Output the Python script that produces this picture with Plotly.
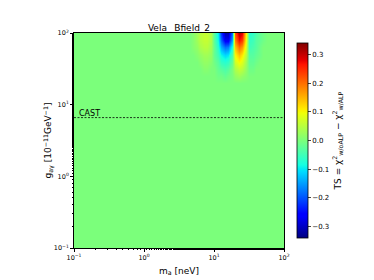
import numpy as np
import plotly.graph_objects as go

# ---- data ----
title = "Vela _Bfield_2"
log_m_full = np.round(np.arange(-1.0, 2.0001, 0.05), 3)   # mass grid (log10 neV)
log_g_full = np.round(np.arange(-1.0, 2.0001, 0.1), 3)    # coupling grid (log10 1e-11 GeV^-1)

# active region (rest of map is TS ~ 0)
active_log_m = [0.70, 0.75, 0.80, 0.85, 0.90, 0.95, 1.00, 1.05, 1.10, 1.15, 1.20,
                1.25, 1.30, 1.35, 1.40, 1.45, 1.50, 1.55, 1.60, 1.65, 1.70, 1.75]
active_log_g = [2.0, 1.9, 1.8, 1.7, 1.6, 1.5, 1.4]
active_ts = [
    [0.01, 0.03, 0.05, 0.06, 0.06, 0.04, -0.03, -0.10, -0.22, -0.31, -0.31, -0.18, 0.22, 0.31, 0.28, 0.10, -0.07, -0.06, -0.04, -0.02, -0.01, 0.0],
    [0.01, 0.03, 0.05, 0.06, 0.06, 0.04, -0.03, -0.09, -0.19, -0.27, -0.27, -0.15, 0.19, 0.27, 0.24, 0.09, -0.06, -0.05, -0.03, -0.02, -0.01, 0.0],
    [0.01, 0.02, 0.04, 0.05, 0.05, 0.03, -0.02, -0.07, -0.14, -0.18, -0.17, -0.08, 0.14, 0.20, 0.17, 0.07, -0.05, -0.04, -0.03, -0.01, 0.0, 0.0],
    [0.0, 0.01, 0.02, 0.03, 0.03, 0.02, -0.02, -0.05, -0.09, -0.11, -0.10, -0.04, 0.10, 0.14, 0.11, 0.05, -0.03, -0.03, -0.02, -0.01, 0.0, 0.0],
    [0.0, 0.0, 0.01, 0.02, 0.02, 0.01, -0.01, -0.03, -0.06, -0.07, -0.06, -0.02, 0.07, 0.10, 0.08, 0.03, -0.02, -0.02, -0.01, 0.0, 0.0, 0.0],
    [0.0, 0.0, 0.0, 0.01, 0.01, 0.0, 0.0, -0.02, -0.03, -0.04, -0.03, 0.0, 0.04, 0.06, 0.05, 0.02, -0.01, -0.01, 0.0, 0.0, 0.0, 0.0],
    [0.0, 0.0, 0.0, 0.0, 0.0, 0.0, 0.0, -0.01, -0.01, -0.02, -0.01, 0.0, 0.02, 0.03, 0.02, 0.01, 0.0, 0.0, 0.0, 0.0, 0.0, 0.0],
]
cast_g = 6.6
ts_min, ts_max = -0.34, 0.34
x_tickvals = [0.1, 1, 10, 100]
x_ticktext = ["10<sup>−1</sup>", "10<sup>0</sup>", "10<sup>1</sup>", "10<sup>2</sup>"]
cb_ticks = [-0.3, -0.2, -0.1, 0.0, 0.1, 0.2, 0.3]

# ---- build grid ----
z = np.zeros((len(log_g_full), len(log_m_full)))
for i, lg in enumerate(active_log_g):
    gi = int(np.argmin(np.abs(log_g_full - lg)))
    for j, lm in enumerate(active_log_m):
        mj = int(np.argmin(np.abs(log_m_full - lm)))
        z[gi, mj] = active_ts[i][j]

m_vals = 10 ** log_m_full
g_vals = 10 ** log_g_full

# matplotlib jet colorscale
def jet(t):
    def seg(pts):
        xs = [p[0] for p in pts]; ys = [p[1] for p in pts]
        return np.interp(t, xs, ys)
    r = seg([(0, 0), (0.35, 0), (0.66, 1), (0.89, 1), (1, 0.5)])
    g = seg([(0, 0), (0.125, 0), (0.375, 1), (0.64, 1), (0.91, 0), (1, 0)])
    b = seg([(0, 0.5), (0.11, 1), (0.34, 1), (0.65, 0), (1, 0)])
    return f"rgb({int(round(r*255))},{int(round(g*255))},{int(round(b*255))})"

stops = sorted(set([0, 0.11, 0.125, 0.34, 0.35, 0.375, 0.5, 0.64, 0.65, 0.66, 0.89, 0.91, 1]))
jet_scale = [[s, jet(s)] for s in stops]

font = "DejaVu Sans"
fig = go.Figure()
fig.add_trace(go.Heatmap(
    x=m_vals, y=g_vals, z=z, zmin=ts_min, zmax=ts_max, colorscale=jet_scale,
    zsmooth="best",
    colorbar=dict(
        thickness=11, len=1.0, lenmode="fraction", y=0.5, yanchor="middle",
        x=1.0, xanchor="left", xpad=13, outlinewidth=0.8, outlinecolor="black",
        tickvals=cb_ticks, ticktext=["−0.3", "−0.2", "−0.1", "0.0", "0.1", "0.2", "0.3"],
        ticks="outside", ticklen=3, tickfont=dict(size=7, family=font, color="black"),
        title=dict(text="TS = χ<sup>2</sup><sub>w/oALP</sub> − χ<sup>2</sup><sub>w/ALP</sub>",
                   side="right", font=dict(size=9, family=font, color="black")),
    ),
))
fig.add_trace(go.Scatter(x=[0.1, 100], y=[cast_g, cast_g], mode="lines",
                         line=dict(color="black", width=0.8, dash="2px,1.5px"),
                         showlegend=False, hoverinfo="skip"))
fig.add_annotation(x=np.log10(0.11), y=np.log10(cast_g), xref="x", yref="y",
                   text="CAST", showarrow=False, xanchor="left", yanchor="bottom",
                   font=dict(size=8, family=font, color="black"), yshift=-2)
# y-axis title placed as annotation for exact position
fig.add_annotation(x=0, y=0.5, xref="paper", yref="paper", xshift=-26,
                   text="g<sub>aγ</sub> [10<sup>−11</sup>GeV<sup>−1</sup>]", textangle=-90,
                   showarrow=False, xanchor="center", yanchor="middle",
                   font=dict(size=9, family=font, color="black"))

axis_common = dict(type="log", showgrid=False, zeroline=False, showline=True,
                   linecolor="black", linewidth=0.8, mirror=True, ticks="outside",
                   ticklen=3, tickcolor="black", automargin=False,
                   tickfont=dict(size=6.5, family=font, color="black"),
                   minor=dict(ticks="outside", ticklen=1.5, tickcolor="black", showgrid=False))
fig.update_xaxes(**axis_common, range=[-1, 2], tickvals=x_tickvals, ticktext=x_ticktext,
                 title=dict(text="m<sub>a</sub> [neV]", font=dict(size=9, family=font, color="black"),
                            standoff=6))
fig.update_yaxes(**axis_common, range=[-1, 2], tickvals=x_tickvals, ticktext=x_ticktext)
fig.update_layout(
    width=366, height=272, margin=dict(l=66, r=90, t=25, b=32, autoexpand=False),
    paper_bgcolor="white", plot_bgcolor="white", showlegend=False,
    title=dict(text=title, x=0.5, xref="paper", xanchor="center", y=1, yref="paper",
               yanchor="bottom", pad=dict(b=2), font=dict(size=9, family=font, color="black")),
)
fig.write_html("out.html")
